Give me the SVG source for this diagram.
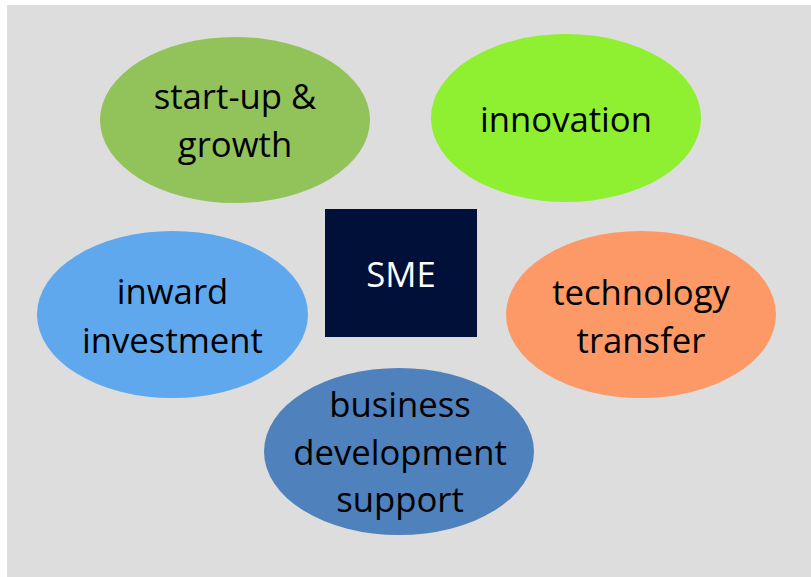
<svg xmlns="http://www.w3.org/2000/svg" width="811" height="577" viewBox="0 0 811 577">
  <style>
    .lbl { font-family: "Open Sans", "Liberation Sans", sans-serif; font-size: 34.7px; fill: #000000; text-anchor: middle; }
    .sme { font-family: "Open Sans", "Liberation Sans", sans-serif; font-size: 34.7px; fill: #ffffff; text-anchor: middle; }
  </style>
  <rect x="0" y="0" width="811" height="577" fill="#ffffff"/>
  <rect x="7" y="5" width="804" height="572" fill="#dddddd"/>
  <g id="connectors"></g>
  <g id="startup">
    <ellipse cx="235" cy="120" rx="135" ry="83" fill="#92c35b"/>
    <text class="lbl" x="235" y="109">start-up &amp;</text>
    <text class="lbl" x="235" y="157">growth</text>
  </g>
  <g id="innovation">
    <ellipse cx="566" cy="118" rx="135" ry="84" fill="#8fef31"/>
    <text class="lbl" x="566" y="132">innovation</text>
  </g>
  <g id="sme">
    <rect x="325" y="209" width="152" height="128" fill="#001038"/>
    <text class="sme" x="401" y="287">SME</text>
  </g>
  <g id="inward">
    <ellipse cx="172.5" cy="314.5" rx="135.5" ry="83.5" fill="#5fa8ed"/>
    <text class="lbl" x="172.5" y="304">inward</text>
    <text class="lbl" x="172.5" y="353">investment</text>
  </g>
  <g id="technology">
    <ellipse cx="641" cy="314.5" rx="135" ry="83.5" fill="#fd9966"/>
    <text class="lbl" x="641" y="305">technology</text>
    <text class="lbl" x="641" y="353">transfer</text>
  </g>
  <g id="business">
    <ellipse cx="399" cy="451.5" rx="135" ry="83.5" fill="#4f81bd"/>
    <text class="lbl" x="400" y="417">business</text>
    <text class="lbl" x="400" y="465">development</text>
    <text class="lbl" x="400" y="512">support</text>
  </g>
</svg>
